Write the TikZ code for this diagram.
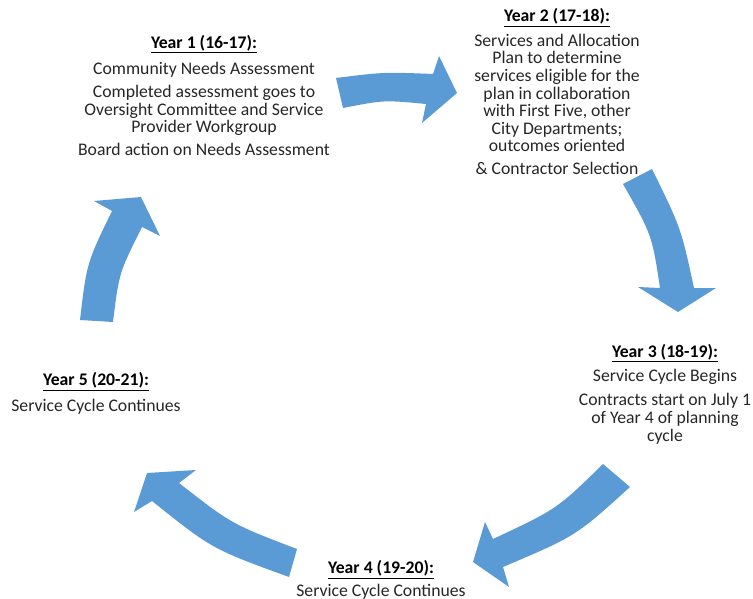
\documentclass[tikz,border=0pt]{standalone}
\usepackage{fontspec}
\setmainfont{Carlito}
\definecolor{arrowblue}{HTML}{5B9BD5}
\definecolor{bodytext}{HTML}{262626}
\tikzset{
  cyclearrow/.style={fill=arrowblue, draw=none},
  yeartext/.style={align=center, anchor=base, inner sep=0pt, text=bodytext,
    font=\fontsize{17.7}{17.6}\selectfont},
}
\newcommand\yeartitle[1]{{\color{black}\underline{\textbf{#1}}}}
\begin{document}
\begin{tikzpicture}[x=1pt, y=-1pt]
\useasboundingbox (0,0) rectangle (753,599);

% arrows
\fill[cyclearrow] (336,78) .. controls (384,72) .. (433,74) -- (439,56) -- (457,93) -- (422,123) -- (426,104)
  .. controls (384,100) .. (343,108) -- cycle;
\fill[cyclearrow] (652,169) .. controls (681,228) .. (694,288) -- (716,288) -- (678,312) -- (638,287) -- (660,288)
  .. controls (652,235) .. (623,184) -- cycle;
\fill[cyclearrow] (603,464) .. controls (557,509) .. (493,539) -- (485,522) -- (473,562) -- (509,587) -- (503,567)
  .. controls (576,536) .. (630,487) -- cycle;
\fill[cyclearrow] (297,549) .. controls (231.5,524) .. (179,483) -- (196,470) -- (147,473) -- (134,512) -- (152,501)
  .. controls (212,549) .. (289,577) -- cycle;
\fill[cyclearrow] (80,320) .. controls (86.7,263) .. (112,211) -- (94,201) -- (141,197) -- (160,236) -- (142,227)
  .. controls (119,273) .. (113,322) -- cycle;

% texts (anchored at the baseline of their last line)
\node[yeartext] (y1) at (204,156) {\yeartitle{Year 1 (16-17):}\\[8.5pt]
  Community Needs Assessment\\[5.5pt]
  Completed assessment goes to\\
  Oversight Committee and Service\\
  Provider Workgroup\\[5.5pt]
  Board action on Needs Assessment};

\node[yeartext] (y2) at (557,175) {\yeartitle{Year 2 (17-18):}\\[7pt]
  Services and Allocation\\
  Plan to determine\\
  services eligible for the\\
  plan in collaboration\\
  with First Five, other\\
  City Departments;\\
  outcomes oriented\\[5.5pt]
  \& Contractor Selection};

\node[yeartext] (y3) at (665,441) {\yeartitle{Year 3 (18-19):}\\[7pt]
  Service Cycle Begins\\[6.5pt]
  Contracts start on July 1\\
  of Year 4 of planning\\
  cycle};

\node[yeartext] (y4) at (381,596) {\yeartitle{Year 4 (19-20):}\\[4.5pt]
  Service Cycle Continues};

\node[yeartext] (y5) at (96,411) {\yeartitle{Year 5 (20-21):}\\[7.5pt]
  Service Cycle Continues};
\end{tikzpicture}
\end{document}
